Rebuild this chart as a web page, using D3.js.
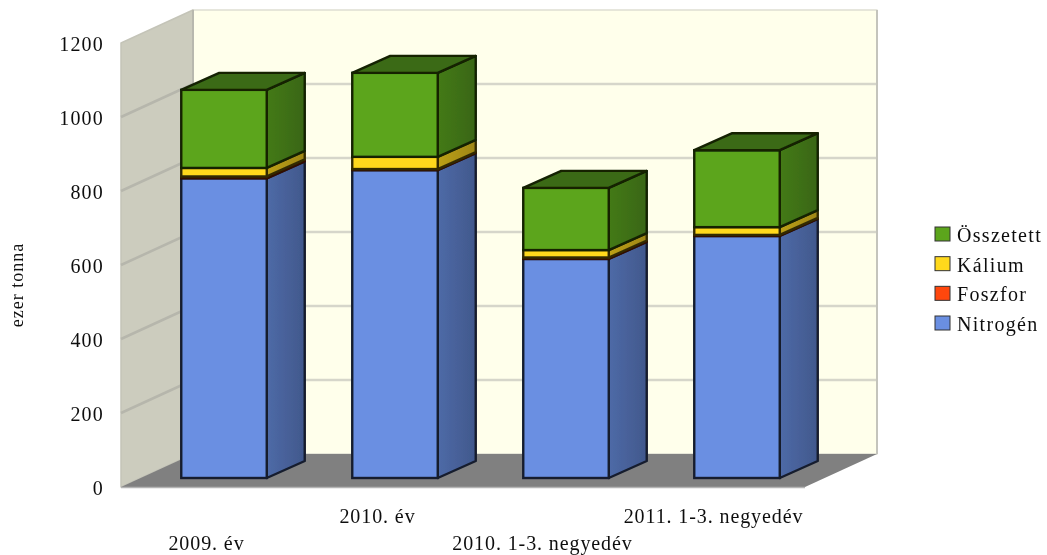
<!DOCTYPE html>
<html lang="hu">
<head>
	<meta charset="utf-8">
	<title>Műtrágya</title>
	<script src="https://d3js.org/d3.v7.min.js"></script>
	<style>
		html, body { margin: 0; padding: 0; background: #fff; overflow: hidden; }
		text { font-family: "Liberation Serif", serif; fill: #111; }
	</style>
</head>
<body>
<div id="chart"></div>
<script>
	// values (ezer tonna)
	var categories = ["2009. év", "2010. év", "2010. 1-3. negyedév", "2011. 1-3. negyedév"];
	var nitrogen = [810, 832, 592, 654];
	var foszfor = [5, 3, 4, 3];
	var kalium = [23, 33, 20, 21];
	var osszetett = [211, 227, 168, 208];
	var yTicks = [0, 200, 400, 600, 800, 1000, 1200];
	var seriesNames = ["Nitrogén", "Foszfor", "Kálium", "Összetett"];
	var seriesValues = [nitrogen, foszfor, kalium, osszetett];
	var seriesColors = ["#6A8FE2", "#FF4610", "#FFD91E", "#5CA51D"];

	var w = 1047, h = 555;
	// the 3D box: front plane, and how far back the wall sits
	var wallDx = 72, wallDy = -33;
	var barOffX = 17.5, barOffY = -9;
	var barDx = 38, barDy = -17;

	var x = d3.scaleBand().domain(categories).range([121, 805]).paddingInner(0.5).paddingOuter(0.25);
	var y = d3.scaleLinear().domain([0, 1200]).range([487, 43]);

	var svg = d3.select("#chart").append("svg").attr("width", w).attr("height", h);
	var defs = svg.append("defs");

	defs.append("filter").attr("id", "soft")
		.append("feGaussianBlur").attr("stdDeviation", 0.6);
	defs.append("filter").attr("id", "softText")
		.append("feGaussianBlur").attr("stdDeviation", 0.3);

	// side faces get darker towards the back
	seriesColors.forEach(function(c, i) {
		var g = defs.append("linearGradient").attr("id", "side" + i);
		g.append("stop").attr("offset", "0%").attr("stop-color", d3.color(c).darker(0.85));
		g.append("stop").attr("offset", "100%").attr("stop-color", d3.color(c).darker(1.35));
	});

	var plot = svg.append("g").attr("filter", "url(#soft)");
	var labels = svg.append("g").attr("filter", "url(#softText)");

	function poly(parent, pts, fill, stroke, sw) {
		return parent.append("polygon")
			.attr("points", pts.map(function(p) { return p.join(","); }).join(" "))
			.attr("fill", fill)
			.attr("stroke", stroke || "none")
			.attr("stroke-width", sw || 0)
			.attr("stroke-linejoin", "round");
	}

	var x0 = x.range()[0], x1 = x.range()[1];
	var yTop = y(1200), yBottom = y(0);

	// back wall, left wall, floor
	poly(plot, [[x0 + wallDx, yTop + wallDy], [x1 + wallDx, yTop + wallDy], [x1 + wallDx, yBottom + wallDy], [x0 + wallDx, yBottom + wallDy]], "#FFFFEB", "#DEDED2", 1.5);
	poly(plot, [[x0, yTop], [x0 + wallDx, yTop + wallDy], [x0 + wallDx, yBottom + wallDy], [x0, yBottom]], "#CCCCBE", "#C4C4B8", 1.5);

	// gridlines, darker where they run over the left wall
	yTicks.filter(function(d) { return d > 0 && d < 1200; }).forEach(function(d) {
		plot.append("line")
			.attr("x1", x0 + wallDx).attr("y1", y(d) + wallDy)
			.attr("x2", x1 + wallDx).attr("y2", y(d) + wallDy)
			.attr("stroke", "#D6D6CA")
			.attr("stroke-width", 2.5);
		plot.append("line")
			.attr("x1", x0).attr("y1", y(d))
			.attr("x2", x0 + wallDx).attr("y2", y(d) + wallDy)
			.attr("stroke", "#B6B6AC")
			.attr("stroke-width", 2.5);
	});
	plot.append("line")
		.attr("x1", x0 + wallDx).attr("x2", x0 + wallDx)
		.attr("y1", yTop + wallDy).attr("y2", yBottom + wallDy)
		.attr("stroke", "#B8B8AE").attr("stroke-width", 2);
	plot.append("line")
		.attr("x1", x1 + wallDx).attr("x2", x1 + wallDx)
		.attr("y1", yTop + wallDy).attr("y2", yBottom + wallDy)
		.attr("stroke", "#C4C4BC").attr("stroke-width", 2);

	poly(plot, [[x0, yBottom], [x1, yBottom], [x1 + wallDx, yBottom + wallDy], [x0 + wallDx, yBottom + wallDy]], "#808080");
	plot.append("line")
		.attr("x1", x0).attr("x2", x1).attr("y1", yBottom + 0.5).attr("y2", yBottom + 0.5)
		.attr("stroke", "#B4B4B4").attr("stroke-width", 1.5);

	// stacked bars
	var stackRows = categories.map(function(c, i) {
		var row = { cat: c };
		seriesNames.forEach(function(s, k) { row[s] = seriesValues[k][i]; });
		return row;
	});
	var stacked = d3.stack().keys(seriesNames)(stackRows);

	categories.forEach(function(c, i) {
		var bar = plot.append("g");
		var left = x(c) + barOffX, right = left + x.bandwidth();

		stacked.forEach(function(layer, k) {
			var yLo = y(layer[i][0]) + barOffY, yHi = y(layer[i][1]) + barOffY;
			var stroke = d3.color(seriesColors[k]).darker(4.5);

			poly(bar, [[right, yLo], [right + barDx, yLo + barDy], [right + barDx, yHi + barDy], [right, yHi]],
				"url(#side" + k + ")", stroke, 2.4);
			bar.append("rect")
				.attr("x", left).attr("y", yHi)
				.attr("width", x.bandwidth()).attr("height", yLo - yHi)
				.attr("fill", seriesColors[k])
				.attr("stroke", stroke)
				.attr("stroke-width", 2.4);

			if (k === stacked.length - 1) {
				poly(bar, [[left, yHi], [right, yHi], [right + barDx, yHi + barDy], [left + barDx, yHi + barDy]],
					d3.color(seriesColors[k]).darker(1.25), stroke, 2.4);
			}
		});
	});

	// y axis labels
	var yAxis = d3.axisLeft(y).tickValues(yTicks).tickSize(0).tickPadding(0).tickFormat(d3.format("d"));
	var yG = labels.append("g").attr("transform", "translate(104,0)").call(yAxis);
	yG.select(".domain").remove();
	yG.selectAll("text")
		.attr("font-size", 20)
		.attr("letter-spacing", 1.2)
		.style("font-family", "'Liberation Serif', serif")
		.attr("fill", "#111")
		.attr("dy", "0.36em");

	labels.append("text")
		.attr("transform", "translate(23,285) rotate(-90)")
		.attr("text-anchor", "middle")
		.attr("font-size", 18)
		.attr("letter-spacing", 1)
		.text("ezer tonna");

	// category labels sit on two alternating rows
	labels.selectAll(".cat")
		.data(categories)
		.enter()
		.append("text")
		.attr("class", "cat")
		.attr("text-anchor", "middle")
		.attr("font-size", 20)
		.attr("letter-spacing", 0.9)
		.attr("x", function(d, i) { return x(d) + x.bandwidth() / 2 - (i > 1 ? 6 : 0); })
		.attr("y", function(d, i) { return i % 2 ? 523 : 550; })
		.text(function(d) { return d; });

	// legend, top entry is the top of the stack
	var legendY = d3.scalePoint().domain(seriesNames.slice().reverse()).range([234, 323]);
	var legend = labels.selectAll(".leg")
		.data(seriesNames)
		.enter()
		.append("g")
		.attr("class", "leg")
		.attr("transform", function(d) { return "translate(935," + legendY(d) + ")"; });

	legend.append("rect")
		.attr("x", 0).attr("y", -7)
		.attr("width", 15).attr("height", 14)
		.attr("fill", function(d, i) { return seriesColors[i]; })
		.attr("stroke", "#333").attr("stroke-width", 1);

	legend.append("text")
		.attr("x", 22).attr("y", 8)
		.attr("font-size", 20)
		.attr("letter-spacing", 1.3)
		.text(function(d) { return d; });
</script>
</body>
</html>
